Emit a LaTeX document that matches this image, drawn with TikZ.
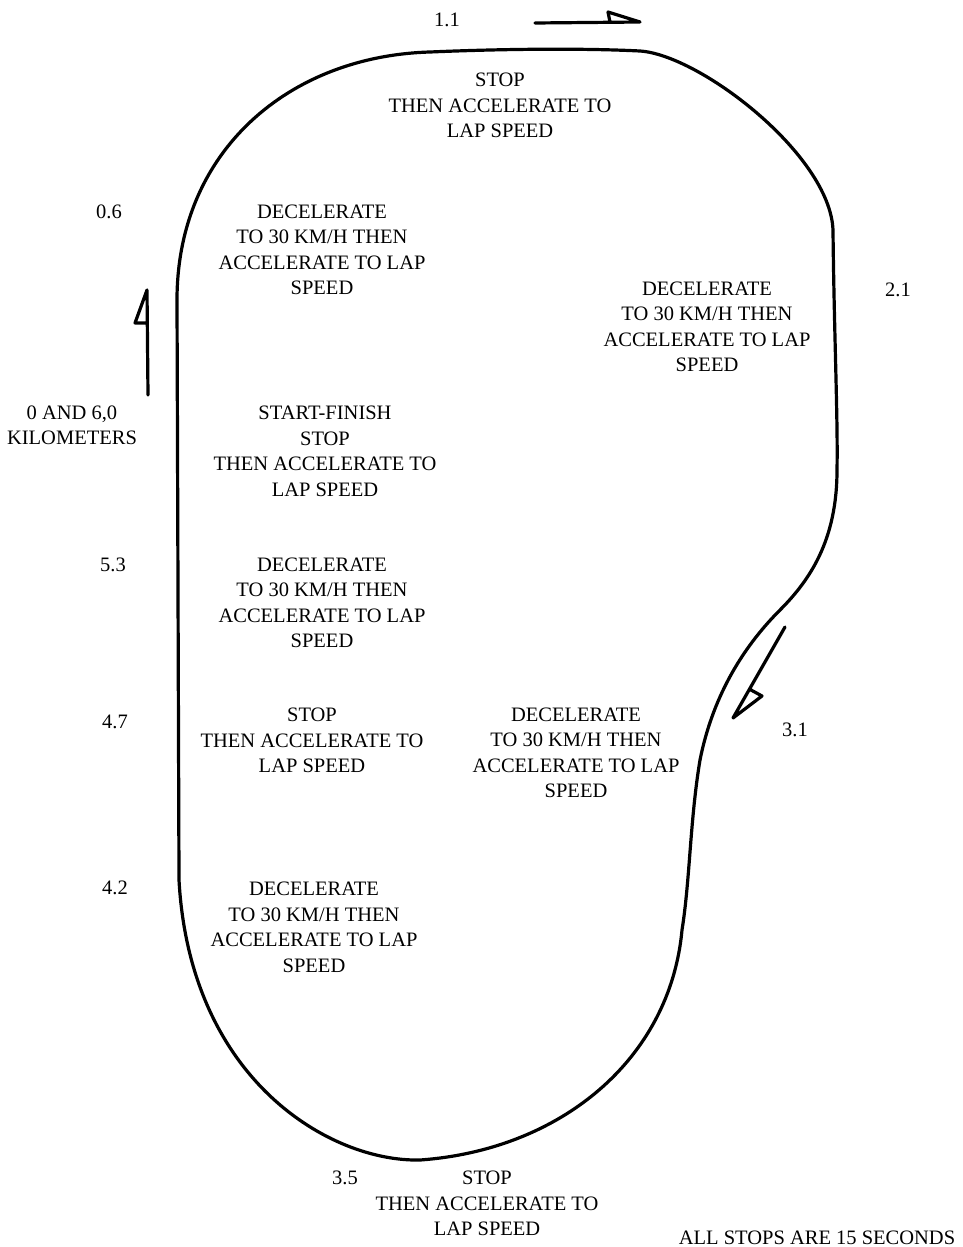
\documentclass[tikz,border=0pt]{standalone}
\usepackage{fontspec}
\setmainfont{Liberation Serif}
\begin{document}
\begin{tikzpicture}[x=1pt,y=-1pt,
  lbl/.style={font=\fontsize{20.5}{25.5}\selectfont, align=center, inner sep=0pt},
  trk/.style={line width=3.2pt, line join=round},
  arr/.style={line width=3.2pt, line cap=round, line join=round}]
\useasboundingbox (0,0) rectangle (963,1247);
% track
\coordinate (p1) at (430,52);
\coordinate (p2) at (640,51);
\coordinate (p3) at (833,230);
\coordinate (p4) at (837,470);
\coordinate (p5) at (780,610);
\coordinate (p6) at (700,760);
\coordinate (p7) at (682,930);
\coordinate (p8) at (420,1160);
\coordinate (p9) at (179,880);
\coordinate (p10) at (177,300);
\draw[trk] (p1) .. controls (500,49) and (580,48) .. (p2)
  .. controls (700,55) and (830,155) .. (p3)
  .. controls (834,330) and (838,420) .. (p4)
  .. controls (837,540) and (810,580) .. (p5)
  .. controls (740,650) and (712,700) .. (p6)
  .. controls (690,820) and (690,880) .. (p7)
  .. controls (670,1060) and (560,1150) .. (p8)
  .. controls (330,1162) and (190,1080) .. (p9)
  -- (p10)
  .. controls (177,150) and (290,56) .. (p1) -- cycle;
% direction arrows
\coordinate (a1s) at (535,23); \coordinate (a1e) at (640,22);
\draw[arr] (a1s) -- (a1e) -- (608,12) -- (610,22);
\coordinate (a2s) at (148,395); \coordinate (a2e) at (147,290);
\draw[arr] (a2s) -- (a2e) -- (135,323) -- (147,323);
\coordinate (a3s) at (785,627); \coordinate (a3e) at (733,718);
\draw[arr] (a3s) -- (a3e) -- (762,696) -- (751,690);
% kilometre labels
\node[lbl] (k11) at (447,20) {1.1};
\node[lbl] (k06) at (109,212) {0.6};
\node[lbl] (k21) at (898,290) {2.1};
\node[lbl] (k0) at (72,425.5) {0 AND 6,0\\KILOMETERS};
\node[lbl] (k53) at (113,565) {5.3};
\node[lbl] (k47) at (115,722) {4.7};
\node[lbl] (k31) at (795,730) {3.1};
\node[lbl] (k42) at (115,888) {4.2};
\node[lbl] (k35) at (345,1178) {3.5};
% instructions
\node[lbl] (t1) at (500,105.5) {STOP\\THEN ACCELERATE TO\\LAP SPEED};
\node[lbl] (t2) at (322,250) {DECELERATE\\TO 30 KM/H THEN\\ACCELERATE TO LAP\\SPEED};
\node[lbl] (t3) at (707,327) {DECELERATE\\TO 30 KM/H THEN\\ACCELERATE TO LAP\\SPEED};
\node[lbl] (t4) at (325,451.5) {START-FINISH\\STOP\\THEN ACCELERATE TO\\LAP SPEED};
\node[lbl] (t5) at (322,603) {DECELERATE\\TO 30 KM/H THEN\\ACCELERATE TO LAP\\SPEED};
\node[lbl] (t6) at (312,740.5) {STOP\\THEN ACCELERATE TO\\LAP SPEED};
\node[lbl] (t7) at (576,753) {DECELERATE\\TO 30 KM/H THEN\\ACCELERATE TO LAP\\SPEED};
\node[lbl] (t8) at (314,927.5) {DECELERATE\\TO 30 KM/H THEN\\ACCELERATE TO LAP\\SPEED};
\node[lbl] (t9) at (487,1203.5) {STOP\\THEN ACCELERATE TO\\LAP SPEED};
\node[lbl] (note) at (817,1238) {ALL STOPS ARE 15 SECONDS};
\end{tikzpicture}
\end{document}
